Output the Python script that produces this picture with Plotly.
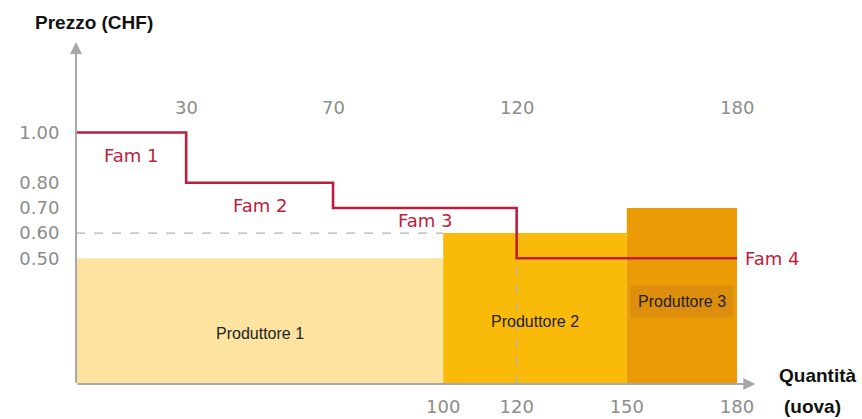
import plotly.graph_objects as go

# --- data ---
producers = ["Produttore 1", "Produttore 2", "Produttore 3"]
prod_start = [0, 100, 150]
prod_end = [100, 150, 180]
prod_price = [0.50, 0.60, 0.70]
prod_colors = ["#FDE3A0", "#F9BA0A", "#EB9B05"]

families = ["Fam 1", "Fam 2", "Fam 3", "Fam 4"]
fam_cum_qty = [30, 70, 120, 180]
fam_price = [1.00, 0.80, 0.70, 0.50]

y_ticks = [0.50, 0.60, 0.70, 0.80, 1.00]
x_ticks_bottom = [100, 120, 150, 180]

GRAY = "#8c8c8c"
AXIS = "#a8a8a8"
RED = "#BE1E3C"
NUM_FONT = "DejaVu Sans"
LBL_FONT = "Liberation Sans"

fig = go.Figure()

# producer supply bars
widths = [e - s for s, e in zip(prod_start, prod_end)]
centers = [s + w / 2 for s, w in zip(prod_start, widths)]
fig.add_trace(go.Bar(
    x=centers, y=prod_price, width=widths, base=0,
    marker=dict(color=prod_colors, line=dict(width=0)),
    hoverinfo="skip", showlegend=False,
))

# dashed reference lines
fig.add_trace(go.Scatter(
    x=[0, prod_start[1]], y=[prod_price[1], prod_price[1]],
    mode="lines", line=dict(color="#b3b3b3", width=1.2, dash="dash"),
    hoverinfo="skip", showlegend=False,
))
fig.add_trace(go.Scatter(
    x=[fam_cum_qty[2], fam_cum_qty[2]], y=[0, prod_price[1]],
    mode="lines", line=dict(color="#b3b3b3", width=1.2, dash="dash"),
    hoverinfo="skip", showlegend=False,
))

# demand step line
step_x = [0] + fam_cum_qty
step_y = fam_price + [fam_price[-1]]
fig.add_trace(go.Scatter(
    x=step_x, y=step_y, mode="lines", line=dict(color=RED, width=2.6, shape="hv"),
    hoverinfo="skip", showlegend=False,
))

ann = []
# axes with arrows
ann.append(dict(x=0, y=1.36, ax=0, ay=0, xref="x", yref="y", axref="x", ayref="y",
                text="", showarrow=True, arrowhead=2, arrowsize=1.2, arrowwidth=2,
                arrowcolor=AXIS))
ann.append(dict(x=185, y=0, ax=0, ay=0, xref="x", yref="y", axref="x", ayref="y",
                text="", showarrow=True, arrowhead=2, arrowsize=1.2, arrowwidth=2,
                arrowcolor=AXIS))

# family labels
prev = [0] + fam_cum_qty[:-1]
fam_label_pos = [
    (prev[0] + fam_cum_qty[0]) / 2,
    (prev[1] + fam_cum_qty[1]) / 2,
    (prev[2] + fam_cum_qty[2]) / 2,
]
fam_label_dy = [-0.09, -0.09, -0.05]
for i in range(3):
    ann.append(dict(x=fam_label_pos[i], y=fam_price[i] + fam_label_dy[i], text=families[i],
                    showarrow=False, font=dict(family=NUM_FONT, size=18, color=RED),
                    xanchor="center", yanchor="middle"))
ann.append(dict(x=fam_cum_qty[-1], y=fam_price[-1], text=families[3], showarrow=False,
                xanchor="left", xshift=6, yanchor="middle",
                font=dict(family=NUM_FONT, size=18, color=RED)))

# cumulative quantities on top
for q in fam_cum_qty:
    ann.append(dict(x=q, y=1.10, text=str(q), showarrow=False,
                    font=dict(family=NUM_FONT, size=18, color=GRAY),
                    xanchor="center", yanchor="middle"))

# producer labels
prod_label_y = [0.20, 0.25, 0.33]
for i in range(3):
    a = dict(x=centers[i], y=prod_label_y[i], text=producers[i], showarrow=False,
             font=dict(family=LBL_FONT, size=16, color="#222222"),
             xanchor="center", yanchor="middle")
    if i == 2:
        a.update(bgcolor="#DD8E0C", borderpad=7)
    ann.append(a)

# axis titles
ann.append(dict(xref="paper", yref="paper", x=-0.063, y=1.0, yshift=20,
                text="<b>Prezzo (CHF)</b>", showarrow=False, xanchor="left", yanchor="middle",
                font=dict(family=LBL_FONT, size=19, color="#111111")))
ann.append(dict(x=185, y=0, text="<b>Quantità</b>", showarrow=False, xanchor="left",
                yanchor="middle", xshift=22, yshift=9,
                font=dict(family=LBL_FONT, size=19, color="#111111")))
ann.append(dict(x=185, y=0, text="<b>(uova)</b>", showarrow=False, xanchor="left",
                yanchor="middle", xshift=27, yshift=-22,
                font=dict(family=LBL_FONT, size=19, color="#111111")))

fig.update_layout(
    width=862, height=419,
    margin=dict(l=76, r=103, t=42, b=35),
    paper_bgcolor="white", plot_bgcolor="white",
    showlegend=False,
    annotations=ann,
    xaxis=dict(range=[0, 186], showgrid=False, zeroline=False, showline=False,
               automargin=False,
               tickvals=x_ticks_bottom, ticktext=[str(v) for v in x_ticks_bottom],
               ticks="outside", ticklen=6, tickcolor="rgba(0,0,0,0)",
               tickfont=dict(family=NUM_FONT, size=18, color=GRAY)),
    yaxis=dict(range=[0, 1.36], showgrid=False, zeroline=False, showline=False,
               automargin=False,
               tickvals=y_ticks, ticktext=[f"{v:.2f}" for v in y_ticks],
               ticks="outside", ticklen=12, tickcolor="rgba(0,0,0,0)",
               tickfont=dict(family=NUM_FONT, size=18, color=GRAY)),
)

fig.write_html("out.html")
